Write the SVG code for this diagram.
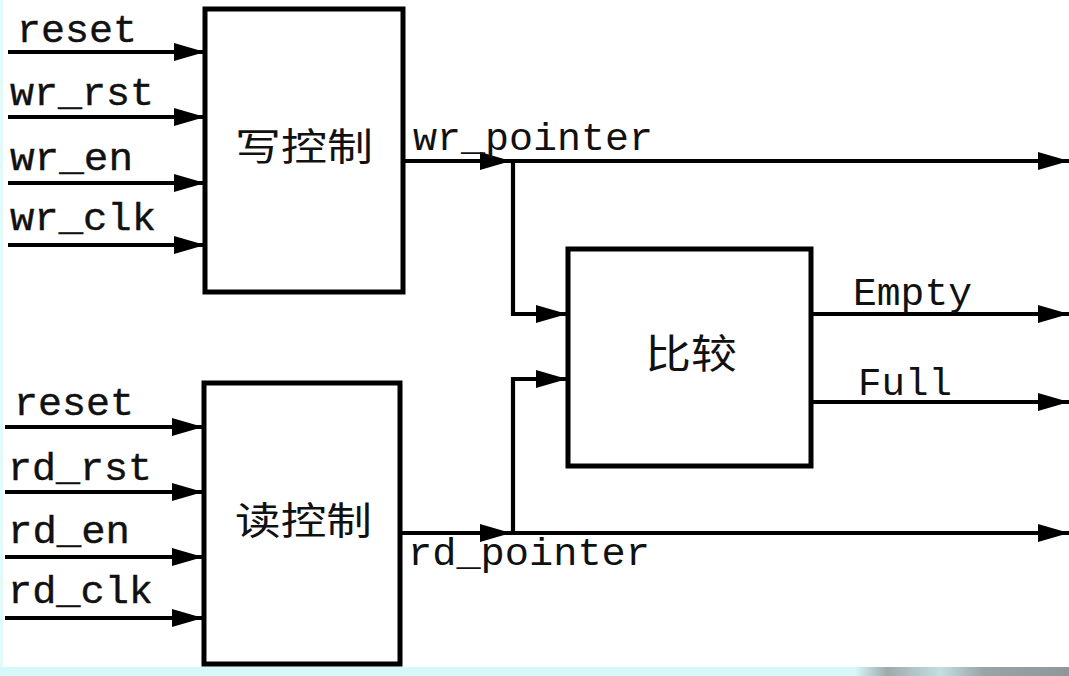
<svg xmlns="http://www.w3.org/2000/svg" width="1069" height="676" viewBox="0 0 1069 676">
<style>
.box{fill:#fff;stroke:#000;stroke-width:5}
.w{fill:none;stroke:#000;stroke-width:4.2}
.a{marker-end:url(#ah)}
.lbl{font-family:"Liberation Mono","DejaVu Sans Mono",monospace;font-size:39px;fill:#111}
.lb{stroke:#111;stroke-width:0.4}
.cn{font-family:"Noto Sans CJK SC",sans-serif;font-size:38px;fill:#111}
</style>
<defs>
<marker id="ah" markerUnits="userSpaceOnUse" markerWidth="31" markerHeight="18" refX="31" refY="9" orient="auto" viewBox="0 0 31 18">
<path d="M0,0 L31,9 L0,18 Z" fill="#000"/>
</marker>
<linearGradient id="gr" x1="0" y1="0" x2="1" y2="0">
<stop offset="0" stop-color="#d6f8f9"/>
<stop offset="0.15" stop-color="#9fa9ab"/>
<stop offset="0.4" stop-color="#c3dfe1"/>
<stop offset="0.6" stop-color="#9aa4a6"/>
<stop offset="1" stop-color="#8e989a"/>
</linearGradient>
</defs>
<rect x="0" y="0" width="1069" height="676" fill="#fff"/>
<rect x="0" y="0" width="3" height="676" fill="#e3fafa"/>
<rect x="0" y="667" width="1069" height="9" fill="#d6f8f9"/>
<rect x="855" y="667" width="214" height="9" fill="url(#gr)"/>

<g id="connectors">
<line class="w a" x1="8" y1="52" x2="205" y2="52"/>
<line class="w a" x1="8" y1="117" x2="205" y2="117"/>
<line class="w a" x1="8" y1="183" x2="205" y2="183"/>
<line class="w a" x1="8" y1="245" x2="205" y2="245"/>
<line class="w a" x1="5" y1="427" x2="203" y2="427"/>
<line class="w a" x1="5" y1="492" x2="203" y2="492"/>
<line class="w a" x1="5" y1="557" x2="203" y2="557"/>
<line class="w a" x1="5" y1="618" x2="203" y2="618"/>
<line class="w a" x1="404" y1="161" x2="511" y2="161"/>
<line class="w a" x1="511" y1="161" x2="1069" y2="161"/>
<polyline class="w a" points="513,161 513,314 567,314"/>
<line class="w a" x1="400" y1="533" x2="511" y2="533"/>
<line class="w a" x1="511" y1="533" x2="1069" y2="533"/>
<polyline class="w a" points="513,533 513,379 567,379"/>
<line class="w a" x1="811" y1="314" x2="1069" y2="314"/>
<line class="w a" x1="811" y1="402" x2="1069" y2="402"/>
</g>

<g id="wr_ctrl">
<rect class="box" x="205" y="9" width="198" height="283"/>
<text class="cn" x="235" y="160" textLength="138" lengthAdjust="spacingAndGlyphs">写控制</text>
</g>
<g id="rd_ctrl">
<rect class="box" x="204" y="383" width="196" height="281"/>
<text class="cn" x="235" y="534" textLength="137" lengthAdjust="spacingAndGlyphs">读控制</text>
</g>
<g id="compare">
<rect class="box" x="568" y="249" width="243" height="217"/>
<text class="cn" x="645" y="368" textLength="92" lengthAdjust="spacingAndGlyphs" style="font-size:40px">比较</text>
</g>

<g id="labels">
<text class="lbl lb" x="17" y="42" textLength="120" lengthAdjust="spacingAndGlyphs">reset</text>
<text class="lbl lb" x="10" y="105" textLength="144" lengthAdjust="spacingAndGlyphs">wr_rst</text>
<text class="lbl lb" x="10" y="170" textLength="123" lengthAdjust="spacingAndGlyphs">wr_en</text>
<text class="lbl lb" x="10" y="230" textLength="146" lengthAdjust="spacingAndGlyphs">wr_clk</text>
<text class="lbl lb" x="14" y="415" textLength="120" lengthAdjust="spacingAndGlyphs">reset</text>
<text class="lbl lb" x="8" y="480" textLength="144" lengthAdjust="spacingAndGlyphs">rd_rst</text>
<text class="lbl lb" x="8" y="543" textLength="122" lengthAdjust="spacingAndGlyphs">rd_en</text>
<text class="lbl lb" x="8" y="603" textLength="145" lengthAdjust="spacingAndGlyphs">rd_clk</text>
<text class="lbl" x="413" y="150" textLength="240" lengthAdjust="spacingAndGlyphs">wr_pointer</text>
<text class="lbl" x="408" y="565" textLength="242" lengthAdjust="spacingAndGlyphs">rd_pointer</text>
<text class="lbl" x="853" y="305" textLength="119" lengthAdjust="spacingAndGlyphs">Empty</text>
<text class="lbl" x="858" y="395" textLength="94" lengthAdjust="spacingAndGlyphs">Full</text>
</g>
</svg>
